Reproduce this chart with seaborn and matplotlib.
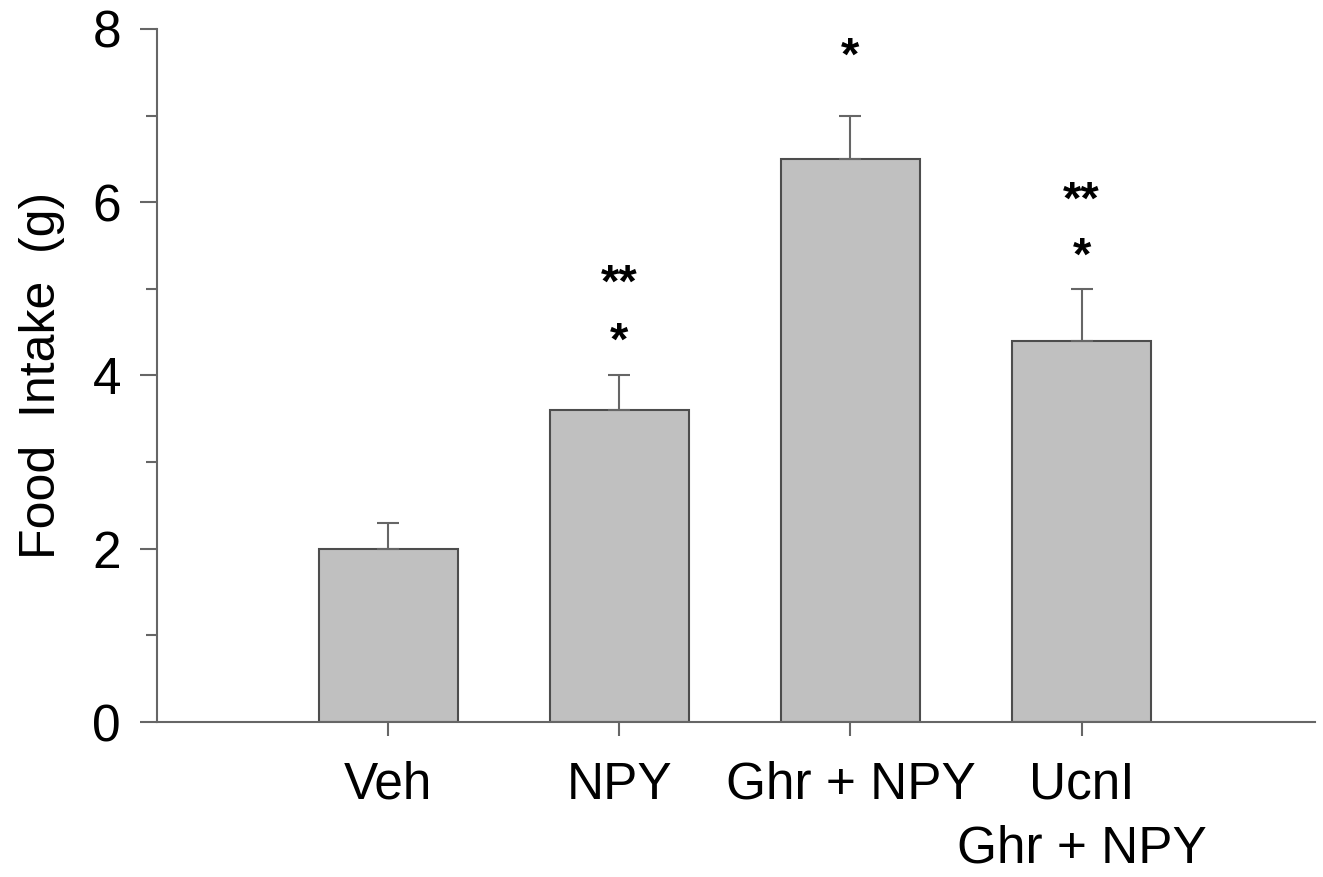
import matplotlib
matplotlib.use("Agg")
import matplotlib.pyplot as plt
import seaborn as sns
import pandas as pd
import numpy as np

categories = ["Veh", "NPY", "Ghr + NPY", "UcnI\nGhr + NPY"]
means = [2.0, 3.6, 6.5, 4.4]
sem = [0.3, 0.4, 0.5, 0.6]
stars_top = ["", "**", "", "**"]
stars_low = ["", "*", "*", "*"]
star_top_y = [0, 5.05, 0, 6.00]
star_low_y = [0, 4.38, 7.67, 5.36]

sns.set_theme(style="white")
plt.rcParams['font.family'] = ['Liberation Sans', 'DejaVu Sans']
plt.rcParams['text.color'] = 'black'
plt.rcParams['axes.labelcolor'] = 'black'
plt.rcParams['xtick.labelcolor'] = 'black'
plt.rcParams['ytick.labelcolor'] = 'black'

df = pd.DataFrame({"group": categories, "intake": means})

fig = plt.figure(figsize=(13.23, 8.77), dpi=100)
ax = fig.add_axes([0.1187, 0.1767, 0.994 - 0.1187, 0.967 - 0.1767])

axis_col = "#666666"
sns.barplot(data=df, x="group", y="intake", color="#c0c0c0", width=0.6,
            edgecolor="#4d4d4d", linewidth=1.5, saturation=1, ax=ax, errorbar=None)
x = np.arange(len(categories))
ax.errorbar(x, means, yerr=[np.zeros(len(sem)), sem], fmt="none", ecolor=axis_col,
            elinewidth=1.5, capsize=8, capthick=1.5, zorder=1)

for i in range(len(categories)):
    if stars_top[i]:
        ax.text(x[i], star_top_y[i], stars_top[i], ha="center", va="center",
                fontsize=34, fontweight="bold", color="black")
    if stars_low[i]:
        ax.text(x[i], star_low_y[i], stars_low[i], ha="center", va="center",
                fontsize=34, fontweight="bold", color="black")

ax.set_xlim(-1.0, 4.01)
ax.set_ylim(0, 8)
ax.set_yticks([0, 2, 4, 6, 8])
ax.set_yticks([1, 3, 5, 7], minor=True)
ax.set_xlabel("")
ax.set_ylabel("Food  Intake  (g)", fontsize=36, labelpad=20)
ax.tick_params(axis="y", which="major", length=12, width=1.5, color=axis_col,
               labelsize=37, left=True, direction="out", pad=14)
ax.tick_params(axis="y", which="minor", length=8, width=1.5, color=axis_col, left=True)
ax.tick_params(axis="x", length=10, width=1.5, color=axis_col, bottom=True,
               labelsize=37, pad=18, direction="out")
for lbl in ax.get_xticklabels():
    lbl.set_linespacing(1.38)
    lbl.set_verticalalignment("top")

for s in ["top", "right"]:
    ax.spines[s].set_visible(False)
for s in ["left", "bottom"]:
    ax.spines[s].set_color(axis_col)
    ax.spines[s].set_linewidth(1.5)

fig.savefig("out.png", dpi=100, facecolor="white")
